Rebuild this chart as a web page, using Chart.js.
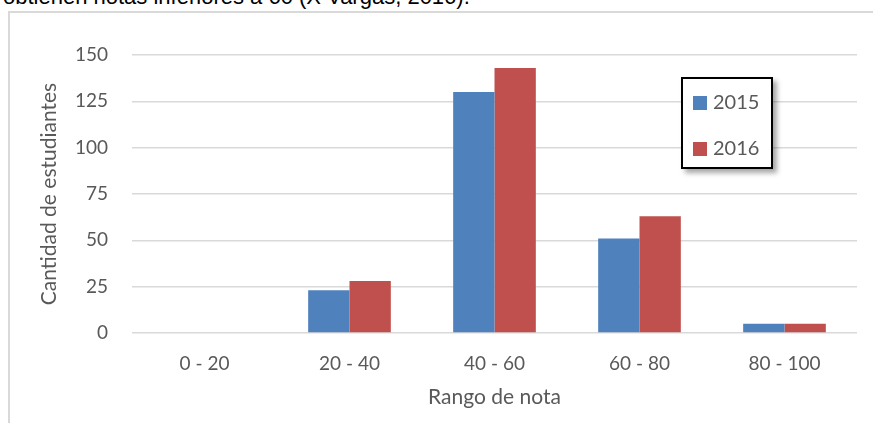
<!DOCTYPE html>
<html>
<head>
<meta charset="utf-8">
<script src="https://cdn.jsdelivr.net/npm/chart.js@4"></script>
<style>
  body { margin: 0; background: #fff; overflow: hidden; }
  #wrap { position: relative; width: 873px; height: 423px; }
  #caption { position: absolute; left: 3px; top: -16px; font: 22px "Liberation Sans", Arial, sans-serif; color: #000; white-space: nowrap; }
  #frame { position: absolute; left: 8px; top: 11px; width: 880px; height: 430px; border: 2px solid #d9d9d9; }
  #chart { position: absolute; left: 0; top: 0; }
  #legend { position: absolute; left: 681px; top: 77px; width: 88px; height: 88px; border: 2px solid #000; background: #fff;
            box-shadow: 4px 4px 5px rgba(0,0,0,0.35); font: 20px Lato, "Open Sans", sans-serif; color: #595959; }
  #legend div { position: absolute; left: 10px; line-height: 20px; }
  #legend span { display: inline-block; width: 14px; height: 14px; margin-right: 6px; vertical-align: -1px; }
</style>
</head>
<body>
<div id="wrap">
  <div id="caption">obtienen notas inferiores a 60 (X Vargas, 2016).</div>
  <div id="frame"></div>
  <canvas id="chart" width="873" height="423"></canvas>
  <div id="legend">
    <div style="top:12px"><span style="background:#4f81bd"></span>2015</div>
    <div style="top:58px"><span style="background:#c0504d"></span>2016</div>
  </div>
</div>
<script>
const rangos = ['0 - 20', '20 - 40', '40 - 60', '60 - 80', '80 - 100'];
const datos2015 = [0, 23, 130, 51, 5];
const datos2016 = [0, 28, 143, 63, 5];
const ticksY = [0, 25, 50, 75, 100, 125, 150];

const familia = 'Lato, "Open Sans", sans-serif';
const fuente = { family: familia, size: 19 };
const fuenteTitulo = { family: familia, size: 21 };
const gris = '#595959';

new Chart(document.getElementById('chart'), {
  type: 'bar',
  data: {
    labels: rangos,
    datasets: [
      { label: '2015', data: datos2015, backgroundColor: '#4f81bd', categoryPercentage: 0.57, barPercentage: 1 },
      { label: '2016', data: datos2016, backgroundColor: '#c0504d', categoryPercentage: 0.57, barPercentage: 1 }
    ]
  },
  options: {
    responsive: false,
    animation: false,
    layout: { padding: { left: 37, top: 55, right: 16, bottom: 13 } },
    plugins: { legend: { display: false }, tooltip: { enabled: false } },
    scales: {
      x: {
        grid: { display: false, drawTicks: false },
        border: { display: false },
        ticks: { color: gris, font: fuente, padding: 19 },
        title: { display: true, text: 'Rango de nota', color: gris, font: fuenteTitulo, padding: 0 },
        afterFit: s => { s.height = 77; }
      },
      y: {
        min: 0, max: 150,
        grid: { color: '#d9d9d9', lineWidth: 1.5, drawTicks: false },
        border: { display: false },
        afterBuildTicks: s => { s.ticks = ticksY.map(v => ({ value: v })); },
        ticks: { color: gris, font: fuente, padding: 24 },
        title: { display: true, text: 'Cantidad de estudiantes', color: gris, font: fuenteTitulo, padding: 0 },
        afterFit: s => { s.width = 95; }
      }
    }
  }
});
</script>
</body>
</html>
